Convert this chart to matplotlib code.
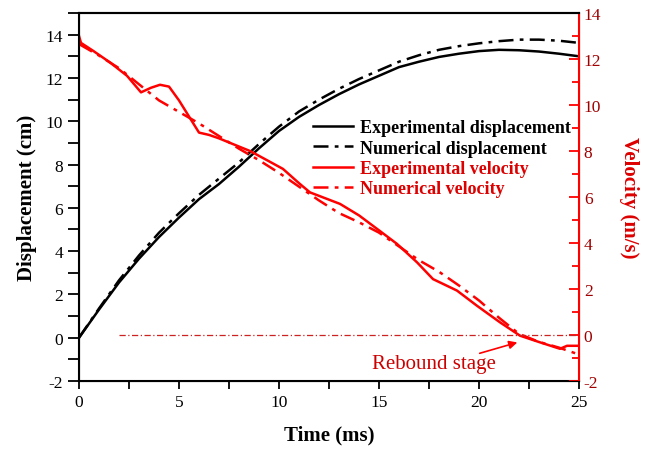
"""Displacement and velocity vs time, experiment vs simulation."""

import matplotlib

matplotlib.use("Agg")
import matplotlib.pyplot as plt
from matplotlib.ticker import MultipleLocator

plt.rcParams["font.family"] = ["Liberation Serif", "DejaVu Serif"]
plt.rcParams["axes.unicode_minus"] = False

# displacement (cm)
t_disp = [0, 1, 2, 3, 4, 5, 6, 7, 8, 9, 10, 11, 12, 13, 14, 15, 16, 17, 18, 19, 20, 21, 22, 23, 24, 25]
exp_disp = [0, 1.3, 2.55, 3.65, 4.65, 5.55, 6.4, 7.1, 7.9, 8.75, 9.55, 10.2, 10.75, 11.25, 11.7, 12.1,
            12.5, 12.75, 12.97, 13.12, 13.24, 13.3, 13.28, 13.22, 13.12, 13.0]
num_disp = [0, 1.35, 2.65, 3.8, 4.85, 5.75, 6.6, 7.35, 8.1, 8.95, 9.75, 10.45, 11.0, 11.5, 11.95, 12.35,
            12.75, 13.05, 13.3, 13.47, 13.6, 13.7, 13.77, 13.77, 13.72, 13.62]

# velocity (m/s)
t_exp_vel = [0, 0.1, 0.7, 1.55, 2.4, 3.1, 3.6, 4.05, 4.5, 5.0, 5.5, 6.0, 6.5, 7.0, 7.7, 8.55, 9.4, 10.2,
             11.0, 11.55, 12.3, 13.05, 14.0, 15.0, 15.9, 16.9, 17.7, 18.9, 19.9, 21.05, 22.05, 23.05,
             24.05, 24.4, 25]
exp_vel = [13.0, 12.7, 12.36, 11.85, 11.27, 10.55, 10.75, 10.88, 10.8, 10.2, 9.5, 8.8, 8.7, 8.55, 8.3,
           8.0, 7.6, 7.22, 6.6, 6.2, 5.95, 5.7, 5.2, 4.55, 3.96, 3.16, 2.43, 1.93, 1.27, 0.55, -0.03,
           -0.32, -0.6, -0.47, -0.47]
t_num_vel = [0, 1, 2, 3, 4, 5, 6, 7, 8, 9, 10, 11, 12, 13, 14, 15, 16, 17, 18, 19, 20, 21, 22, 23, 24, 25]
num_vel = [12.65, 12.15, 11.6, 10.9, 10.2, 9.7, 9.2, 8.65, 8.1, 7.6, 7.05, 6.45, 5.85, 5.3, 4.9, 4.45,
           3.85, 3.25, 2.75, 2.15, 1.5, 0.75, 0.05, -0.3, -0.55, -0.85]

zero_line_t = [2, 25]
zero_line_v = [0, 0]

RED = "#ff0000"
DASHDOT = (0, (6, 2.5, 1.5, 2.5))

fig = plt.figure(figsize=(6.46, 4.52), dpi=100)
ax = fig.add_axes([0.1223, 0.1549, 0.774, 0.8141])
ax2 = ax.twinx()

l1, = ax.plot(t_disp, exp_disp, color="black", lw=1.8, label="Experimental displacement")
l2, = ax.plot(t_disp, num_disp, color="black", lw=1.8, linestyle=DASHDOT, label="Numerical displacement")
l3, = ax2.plot(t_exp_vel, exp_vel, color=RED, lw=1.8, label="Experimental velocity")
l4, = ax2.plot(t_num_vel, num_vel, color=RED, lw=1.8, linestyle=DASHDOT, label="Numerical velocity")
ax2.plot(zero_line_t, zero_line_v, color="#cc2222", lw=0.9, linestyle=(0, (5, 2, 1, 2)))

ax.set_xlim(0, 25)
ax.set_ylim(-2, 15)
ax2.set_ylim(-2, 14)
ax.xaxis.set_major_locator(MultipleLocator(5))
ax.xaxis.set_minor_locator(MultipleLocator(2.5))
ax.yaxis.set_major_locator(MultipleLocator(2))
ax.yaxis.set_minor_locator(MultipleLocator(1))
ax2.yaxis.set_major_locator(MultipleLocator(2))
ax2.yaxis.set_minor_locator(MultipleLocator(1))

ax.tick_params(axis="both", which="both", direction="out", width=1.3, labelsize=12.5)
ax.tick_params(axis="y", which="both", length=8)
ax.tick_params(axis="x", which="both", length=6)
ax.tick_params(top=False, right=False)
ax2.tick_params(axis="y", which="major", direction="in", length=7, width=1.3, color=RED,
                labelcolor="#a00000", labelsize=12.5)
ax2.tick_params(axis="y", which="minor", direction="in", length=5, width=1.3, color=RED)

for side in ("left", "top", "bottom"):
    ax.spines[side].set_linewidth(1.5)
ax2.spines["right"].set_color(RED)
ax2.spines["right"].set_linewidth(1.5)
ax2.spines["top"].set_linewidth(1.5)

ax.set_xlabel("Time (ms)", fontsize=15, fontweight="bold", labelpad=10)
ax.set_ylabel("Displacement (cm)", fontsize=15, fontweight="bold", labelpad=6)
ax2.set_ylabel("Velocity (m/s)", fontsize=15, fontweight="bold", color="#dd0000",
               rotation=270, labelpad=27)

leg = ax2.legend(handles=[l1, l2, l3, l4], loc="center left", bbox_to_anchor=(0.468, 0.605),
                 frameon=False, borderpad=0, borderaxespad=0, handlelength=2.2, handletextpad=0.4,
                 labelspacing=0.18, prop={"weight": "bold", "size": 13})
for txt in leg.get_texts()[2:]:
    txt.set_color("#dd0000")

ax2.annotate("", xy=(22.05, -0.29), xytext=(19.9, -0.83),
             arrowprops=dict(arrowstyle="-|>", color=RED, lw=1.2, mutation_scale=12))
ax2.text(17.75, -1.25, "Rebound stage", color="#cc0000", fontsize=15, ha="center", va="center")

fig.savefig("out.png", dpi=100)
plt.close(fig)
